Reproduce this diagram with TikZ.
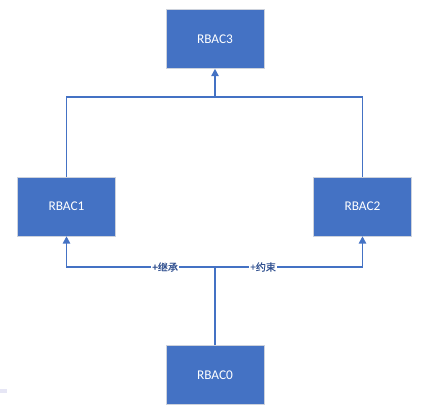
\documentclass[tikz,border=0pt]{standalone}
\usepackage{fontspec}
\setsansfont{Carlito}
\newfontfamily\cjk[FakeBold=0.6]{Noto Sans CJK SC}
\definecolor{rbacblue}{RGB}{68,114,196}
\definecolor{rbacedge}{RGB}{205,210,220}
\definecolor{rbactext}{RGB}{47,79,143}
\definecolor{rbacmark}{RGB}{230,230,245}
\tikzset{every picture/.style={/utils/exec={\sffamily}}}
\usetikzlibrary{positioning,calc,arrows.meta}

\begin{document}
\begin{tikzpicture}[x=0.75pt,y=-0.75pt,
  rbacbox/.style={draw=rbacedge, fill=rbacblue, text=white, inner sep=0pt,
    minimum width=73.5pt, minimum height=44.25pt, font=\fontsize{10}{12}\selectfont},
  link/.style={draw=rbacblue, line width=1.1pt},
  tip/.style={-{Triangle[width=5.5pt,length=5.5pt]}},
  rel/.style={fill=white, text=rbactext, inner sep=1pt, font=\cjk\fontsize{7.5}{9}\selectfont}]
  \useasboundingbox (0,0) rectangle (422,411);

  % roles
  \node [rbacbox] (rbac3) at (215,39) {RBAC3};
  \node [rbacbox] (rbac1) at (66.5,206.5) {RBAC1};
  \node [rbacbox] (rbac2) at (362.5,206.5) {RBAC2};
  \node [rbacbox] (rbac0) at (215,375) {RBAC0};

  \coordinate (top) at (215,97);
  \coordinate (bottom) at (215,267);

  % upper join
  \draw [link] (rbac1.north) |- (top) -| (rbac2.north);
  \draw [link,tip] (top) -- (rbac3.south);

  % lower split
  \draw [link] (rbac0.north) -- (bottom);
  \draw [link,tip] (bottom) -| node [rel, pos=0.168] (inherit) {+继承} (rbac1.south);
  \draw [link,tip] (bottom) -| node [rel, pos=0.163] (constrain) {+约束} (rbac2.south);

  \fill [rbacmark] (0,389) rectangle (7,393);
\end{tikzpicture}
\end{document}
